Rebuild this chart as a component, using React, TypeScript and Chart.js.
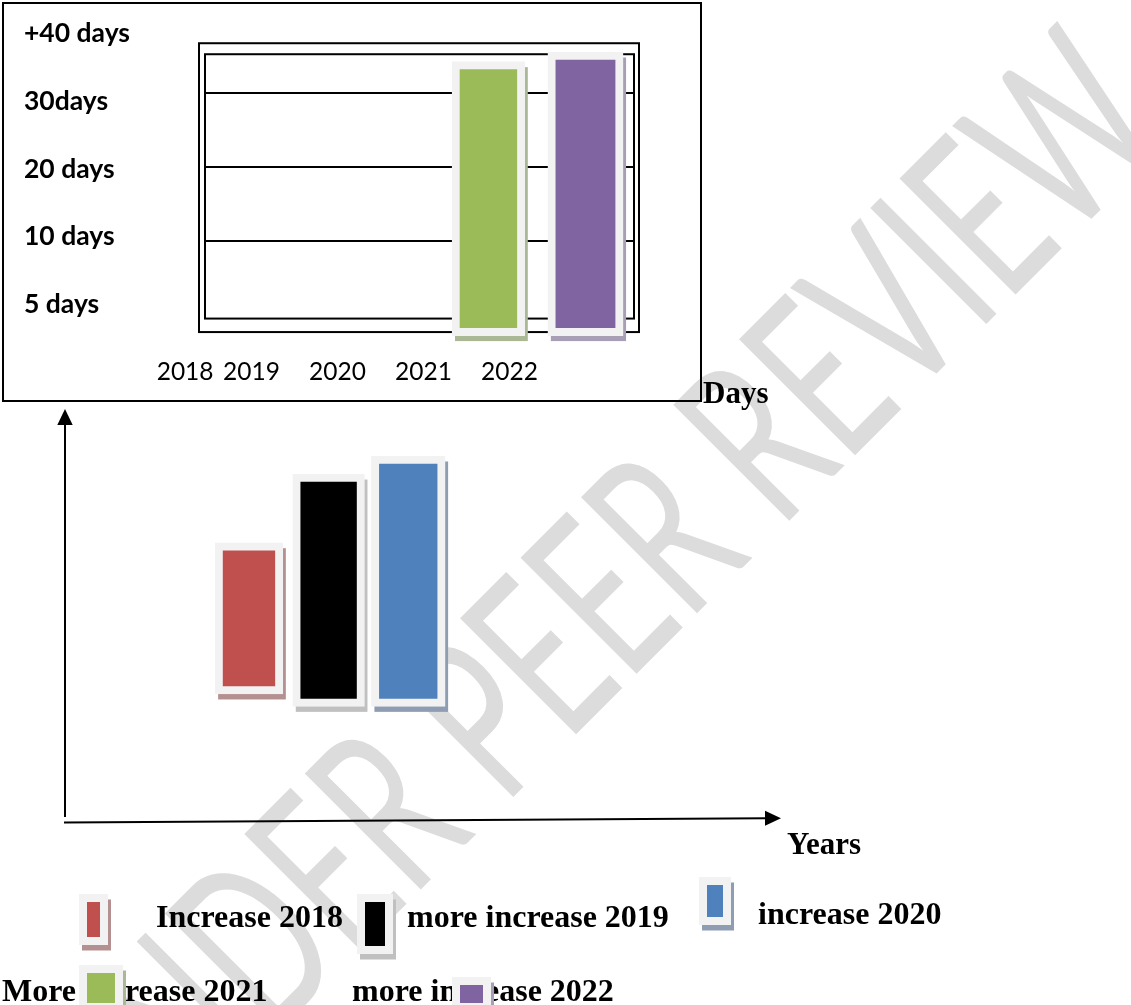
import React, { useEffect, useRef } from 'react';
import { Chart, registerables } from 'chart.js';

Chart.register(...registerables);

// ---------------- data ----------------
// upper panel (boxed chart): 2021 and 2022 bars, values in days
const topYears = [2021, 2022];
const topStart = [-2.8, -2.8];
const topEnd = [34.2, 35.5];
const topYTickLabels = ['+40 days', '30days', '20 days', '10 days', '5 days'];
const topXTickLabels = ['2018', '2019', '2020', '2021', '2022'];
const topGridValues = [10, 20, 30];
const topFrameRange = [-0.5, 35.2];

// lower panel (arrow axes): 2018, 2019, 2020 bars, values in days
const bottomYears = [2018, 2019, 2020];
const bottomStart = [12.4, 11.2, 11.2];
const bottomEnd = [27.05, 33.7, 35.45];

const legendLabels = [
  'Increase 2018',
  'more increase 2019',
  'increase 2020',
  'More increase 2021',
  'more increase 2022',
];
const axisTitleY = 'Days';
const axisTitleX = 'Years';
const watermarkText = 'UNDER PEER REVIEW';

// ---------------- styles ----------------
const fillColors = ['#c0504d', '#000000', '#4f81bd', '#9bbb59', '#8064a2'];
const shadowColors = ['#b59090', '#c0c0c0', '#8f9db3', '#abb896', '#a89eb6'];
const frameColor = '#f2f2f2';
const topBarThickness = [72.8, 75.2];
const bottomBarThickness = [67.7, 71.7, 73.7];

const topXLabelLeft = [156.7, 223, 309, 395, 481];
const legendTextPos = [
  { left: 156, top: 900 },
  { left: 407, top: 900 },
  { left: 758, top: 897 },
  { left: 2, top: 974 },
  { left: 352, top: 974 },
];
// swatch frames: [left, top, right, bottom]
const legendSwatch = [
  [79, 894, 108, 945],
  [357, 894, 393, 954],
  [699, 877, 731, 925],
  [79, 965, 122.5, 1011],
  [452, 977, 491, 1011],
];

const SHADOW_DX = 3;
const SHADOW_DY = 5.5;

const WM_FONT_SIZE = 229;
const WM_LENGTH = 1500;
const WM_ANGLE = -45;

const shadowPlugin = {
  id: 'barShadows',
  beforeDatasetsDraw(chart: any) {
    const ctx = chart.ctx;
    ctx.save();
    chart.getSortedVisibleDatasetMetas().forEach((meta: any) => {
      const ds = chart.data.datasets[meta.index] as any;
      ctx.fillStyle = ds.shadowColor;
      meta.data.forEach((el: any) => {
        const { x, y, base, width } = el.getProps(['x', 'y', 'base', 'width'], true);
        ctx.fillRect(
          x - width / 2 + SHADOW_DX,
          Math.min(y, base) + SHADOW_DY,
          width,
          Math.abs(base - y)
        );
      });
    });
    ctx.restore();
  },
};

const topFramePlugin = {
  id: 'topFrames',
  beforeDatasetsDraw(chart: any) {
    const { ctx, chartArea: a, scales } = chart;
    const y = scales.y;
    const top = y.getPixelForValue(topFrameRange[1]);
    const bottom = y.getPixelForValue(topFrameRange[0]);
    ctx.save();
    ctx.strokeStyle = '#000';
    ctx.lineWidth = 2;
    ctx.strokeRect(a.left, top, a.right - a.left, bottom - top);
    ctx.strokeRect(a.left - 6, top - 11, a.right - a.left + 11, bottom - top + 24.5);
    ctx.restore();
  },
};

const arrowAxesPlugin = {
  id: 'arrowAxes',
  beforeDatasetsDraw(chart: any) {
    const { ctx, chartArea: a } = chart;
    ctx.save();
    ctx.strokeStyle = '#000';
    ctx.fillStyle = '#000';
    ctx.lineWidth = 2;
    // vertical axis with arrow head
    ctx.beginPath();
    ctx.moveTo(a.left, a.bottom - 5);
    ctx.lineTo(a.left, a.top + 14);
    ctx.stroke();
    ctx.beginPath();
    ctx.moveTo(a.left, a.top);
    ctx.lineTo(a.left - 7.7, a.top + 16);
    ctx.lineTo(a.left + 7.7, a.top + 16);
    ctx.closePath();
    ctx.fill();
    // horizontal axis (slightly tilted, as drawn in the source)
    const yl = a.bottom + 0.5;
    const yr = a.bottom - 3.7;
    ctx.beginPath();
    ctx.moveTo(a.left - 1, yl);
    ctx.lineTo(a.right - 14, yr);
    ctx.stroke();
    ctx.beginPath();
    ctx.moveTo(a.right, yr);
    ctx.lineTo(a.right - 16, yr - 7.5);
    ctx.lineTo(a.right - 16, yr + 7.5);
    ctx.closePath();
    ctx.fill();
    ctx.restore();
  },
};

function topConfig(): any {
  return {
    type: 'bar',
    data: {
      datasets: topYears.map((yr, i) => ({
        label: legendLabels[3 + i],
        data: [{ x: yr, y: [topStart[i], topEnd[i]] }],
        backgroundColor: fillColors[3 + i],
        borderColor: frameColor,
        borderWidth: 8,
        borderSkipped: false,
        barThickness: topBarThickness[i],
        grouped: false,
        clip: false,
        shadowColor: shadowColors[3 + i],
        xAxisID: 'x',
        yAxisID: 'y',
      })),
    },
    options: {
      responsive: false,
      animation: false,
      events: [],
      layout: { padding: { left: 24, top: 33.5, right: 497, bottom: 700.5 } },
      plugins: { legend: { display: false }, tooltip: { enabled: false } },
      scales: {
        x: { type: 'linear', display: false, offset: false, min: 2018.08, max: 2022.5 },
        yl: {
          type: 'category',
          labels: topYTickLabels,
          position: 'left',
          offset: false,
          grid: { display: false },
          border: { display: false },
          ticks: {
            color: '#000',
            font: { family: 'Lato', weight: 'bold', size: 26.5 },
            crossAlign: 'far',
            padding: 0,
            autoSkip: false,
          },
          afterFit: (s: any) => {
            s.width = 181;
          },
        },
        y: {
          type: 'linear',
          position: 'left',
          min: 1.4,
          max: 38,
          grid: { color: '#000', lineWidth: 2, drawTicks: false },
          border: { display: false },
          ticks: { display: false },
          afterBuildTicks: (s: any) => {
            s.ticks = topGridValues.map((v) => ({ value: v }));
          },
          afterFit: (s: any) => {
            s.width = 0;
          },
        },
      },
    },
    plugins: [topFramePlugin, shadowPlugin],
  };
}

function bottomConfig(): any {
  return {
    type: 'bar',
    data: {
      datasets: bottomYears.map((yr, i) => ({
        label: legendLabels[i],
        data: [{ x: yr, y: [bottomStart[i], bottomEnd[i]] }],
        backgroundColor: fillColors[i],
        borderColor: frameColor,
        borderWidth: 8,
        borderSkipped: false,
        barThickness: bottomBarThickness[i],
        grouped: false,
        clip: false,
        shadowColor: shadowColors[i],
      })),
    },
    options: {
      responsive: false,
      animation: false,
      events: [],
      layout: { padding: { left: 65, top: 409, right: 350, bottom: 183 } },
      plugins: { legend: { display: false }, tooltip: { enabled: false } },
      scales: {
        x: { type: 'linear', display: false, offset: false, min: 2015.69, max: 2024.68 },
        y: { type: 'linear', display: false, min: 0, max: 40 },
      },
    },
    plugins: [arrowAxesPlugin, shadowPlugin],
  };
}

const W = 1131;
const H = 1005;

export default function App() {
  const topRef = useRef<HTMLCanvasElement>(null);
  const bottomRef = useRef<HTMLCanvasElement>(null);
  const wmRef = useRef<HTMLDivElement>(null);

  useEffect(() => {
    const wm = wmRef.current;
    if (wm) {
      const k = WM_LENGTH / Math.max(1, wm.offsetWidth);
      wm.style.transform = `translate(-50%, -50%) rotate(${WM_ANGLE}deg) scaleX(${k})`;
    }
    const top = new Chart(topRef.current as HTMLCanvasElement, topConfig());
    const bottom = new Chart(bottomRef.current as HTMLCanvasElement, bottomConfig());
    return () => {
      top.destroy();
      bottom.destroy();
    };
  }, []);

  const serif = "'Liberation Serif', 'Times New Roman', serif";
  const canvasStyle: React.CSSProperties = {
    position: 'absolute',
    left: 0,
    top: 0,
    width: W,
    height: H,
    zIndex: 2,
  };

  return (
    <div
      style={{
        position: 'absolute',
        left: 0,
        top: 0,
        width: W,
        height: H,
        overflow: 'hidden',
        background: '#fff',
      }}
    >
      {/* watermark */}
      <div
        ref={wmRef}
        style={{
          position: 'absolute',
          left: 582,
          top: 603,
          transform: `translate(-50%, -50%) rotate(${WM_ANGLE}deg) scaleX(0.68)`,
          fontFamily: 'Lato, sans-serif',
          fontSize: WM_FONT_SIZE,
          lineHeight: 1,
          color: '#dcdcdc',
          whiteSpace: 'nowrap',
          zIndex: 0,
        }}
      >
        {watermarkText}
      </div>

      {/* outer box of upper panel */}
      <div
        style={{
          position: 'absolute',
          left: 2,
          top: 2,
          width: 700,
          height: 400,
          border: '2px solid #000',
          boxSizing: 'border-box',
          zIndex: 1,
        }}
      />

      <canvas ref={topRef} width={W} height={H} style={canvasStyle} />
      <canvas ref={bottomRef} width={W} height={H} style={canvasStyle} />

      {/* x labels of upper panel */}
      {topXTickLabels.map((t, i) => (
        <div
          key={t}
          style={{
            position: 'absolute',
            left: topXLabelLeft[i],
            top: 359,
            fontFamily: 'Lato, sans-serif',
            fontSize: 24.5,
            lineHeight: 1,
            color: '#000',
            whiteSpace: 'pre',
            zIndex: 3,
          }}
        >
          {t}
        </div>
      ))}

      {/* axis titles of lower panel */}
      <div
        style={{
          position: 'absolute',
          left: 703,
          top: 377,
          fontFamily: serif,
          fontWeight: 'bold',
          fontSize: 31,
          lineHeight: 1,
          color: '#000',
          zIndex: 3,
        }}
      >
        {axisTitleY}
      </div>
      <div
        style={{
          position: 'absolute',
          left: 787,
          top: 828,
          fontFamily: serif,
          fontWeight: 'bold',
          fontSize: 31,
          lineHeight: 1,
          color: '#000',
          zIndex: 3,
        }}
      >
        {axisTitleX}
      </div>

      {/* legend text */}
      {legendLabels.map((t, i) => (
        <div
          key={t}
          style={{
            position: 'absolute',
            left: legendTextPos[i].left,
            top: legendTextPos[i].top,
            fontFamily: serif,
            fontWeight: 'bold',
            fontSize: 32,
            lineHeight: 1,
            color: '#000',
            whiteSpace: 'pre',
            zIndex: 3,
          }}
        >
          {t}
        </div>
      ))}

      {/* legend swatches (drawn over the text, as in the source) */}
      {legendSwatch.map((r, i) => (
        <div
          key={'sw' + i}
          style={{
            position: 'absolute',
            left: r[0],
            top: r[1],
            width: r[2] - r[0],
            height: r[3] - r[1],
            boxSizing: 'border-box',
            border: '8px solid ' + frameColor,
            background: fillColors[i],
            boxShadow: `${SHADOW_DX}px ${SHADOW_DY}px 0 ${shadowColors[i]}`,
            zIndex: 4,
          }}
        />
      ))}
    </div>
  );
}
